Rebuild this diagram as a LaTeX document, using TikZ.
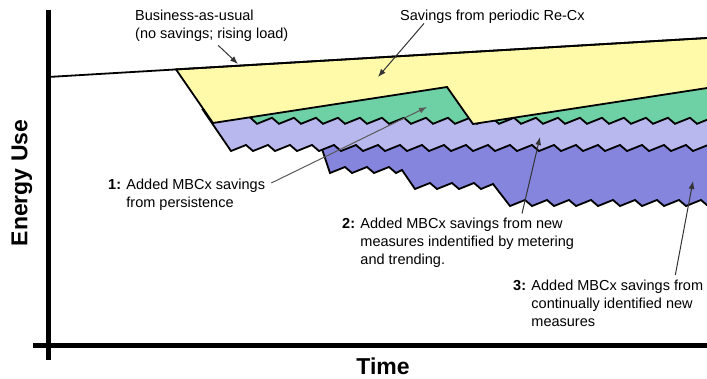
\documentclass[tikz,border=0pt]{standalone}
\usepackage{fontspec}
\setmainfont{Liberation Sans}
\usetikzlibrary{arrows.meta}
\definecolor{recx}{HTML}{FFFAAA}
\definecolor{persist}{HTML}{6ED0A5}
\definecolor{metered}{HTML}{B8B8EE}
\definecolor{newmeas}{HTML}{8585DE}
\tikzset{
  band/.style={draw=black, line width=1.8pt, line join=miter},
  axisline/.style={line width=5pt},
  pointer/.style={draw=black!80, line width=1pt, -{Latex[length=8pt,width=6pt]}},
  lbl/.style={align=left, inner sep=0pt, font=\fontsize{14.5}{18}\selectfont},
  axislbl/.style={inner sep=0pt, font=\fontsize{23}{26}\selectfont\bfseries}
}
\begin{document}
\begin{tikzpicture}[x=1pt, y=-1pt]
  \clip (0,0) rectangle (707,378);
  % MBCx 3: continually identified new measures
  \filldraw[band, fill=newmeas] (319,140) -- (330,173)
    \foreach \i in {1,2,3} { -- ++(15,-6) -- ++(7,6) }
    -- ++(6,-3) -- ++(13,19)
    \foreach \i in {1,2,3} { -- ++(15,-6) -- ++(7,6) }
    -- ++(12,-5) -- ++(17,22)
    \foreach \i in {1,...,10} { -- ++(15,-6) -- ++(7,6) }
    -- (745,140) -- cycle;
  % MBCx 2: metering and trending
  \filldraw[band, fill=metered] (203,110) -- (231,151)
    \foreach \i in {1,...,23} { -- ++(15,-6) -- ++(7,6) }
    -- (745,110) -- cycle;
  % MBCx 1: persistence
  \filldraw[band, fill=persist] (250,117.3) -- ++(7,6.5)
    \foreach \i in {1,...,22} { -- ++(15,-6) -- ++(7,6) }
    -- (745,80) -- (250,80) -- cycle;
  % periodic Re-Cx
  \filldraw[band, fill=recx] (176,69.4) -- (745,35.75) -- (745,82.2)
    -- (473,124) -- (447,87) -- (213,123) -- cycle;
  % business-as-usual
  \draw[band] (48,77) -- (745,35.75);
  % axes
  \coordinate (origin) at (48,345);
  \draw[axisline] (48,10) -- (48,360);
  \draw[axisline] (33,345) -- (745,345);
  \node[axislbl, rotate=90] (ylbl) at (22,183) {Energy Use};
  \node[axislbl] (xlbl) at (383,366) {Time};
  % labels
  \node[lbl, anchor=north west] (bau) at (135,9.5) {Business-as-usual\\(no savings; rising load)};
  \node[lbl, anchor=north west] (recxlbl) at (400,9.5) {Savings from periodic Re-Cx};
  \node[lbl, anchor=north west] (mbcx1) at (108,178.5)
    {\textbf{1:} Added MBCx savings\\\phantom{\textbf{1:} }from persistence};
  \node[lbl, anchor=north west] (mbcx2) at (342,217.5)
    {\textbf{2:} Added MBCx savings from new\\\phantom{\textbf{2:} }measures indentified by metering\\\phantom{\textbf{2:} }and trending.};
  \node[lbl, anchor=north west] (mbcx3) at (513,279.5)
    {\textbf{3:} Added MBCx savings from\\\phantom{\textbf{3:} }continually identified new\\\phantom{\textbf{3:} }measures};
  % pointers
  \coordinate (bau tip) at (238,64);
  \coordinate (recx tip) at (378,77);
  \coordinate (mbcx1 tip) at (427,107);
  \coordinate (mbcx2 tip) at (540,137);
  \coordinate (mbcx3 tip) at (693,181);
  \draw[pointer] ([xshift=6.5pt,yshift=-4pt]bau.south) -- (bau tip);
  \draw[pointer] ([xshift=24pt]recxlbl.south west) -- (recx tip);
  \draw[pointer, draw=black!65] ([xshift=6pt,yshift=-4.5pt]mbcx1.north east) -- (mbcx1 tip);
  \draw[pointer] ([xshift=180pt,yshift=4pt]mbcx2.north west) -- (mbcx2 tip);
  \draw[pointer] ([xshift=-28pt,yshift=4.5pt]mbcx3.north east) -- (mbcx3 tip);
\end{tikzpicture}
\end{document}
